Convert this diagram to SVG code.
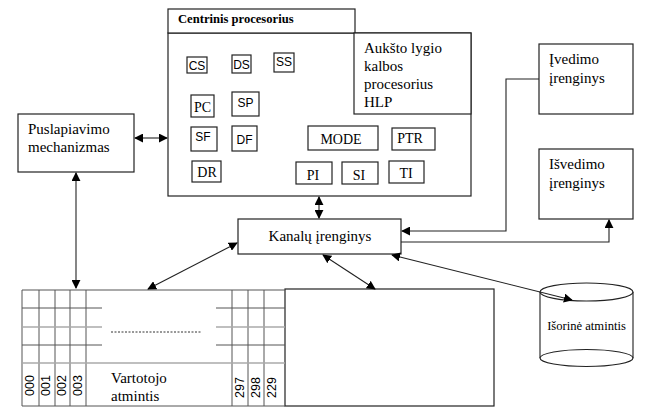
<svg xmlns="http://www.w3.org/2000/svg" width="653" height="413" viewBox="0 0 653 413">
<style>
.b{fill:#fff;stroke:#222;stroke-width:1.2}
.r{fill:#fff;stroke:#222;stroke-width:1.2}
.t{font-family:"Liberation Serif",serif;font-size:15px;fill:#000}
.s{font-family:"Liberation Serif",serif;font-size:14px;fill:#000;text-anchor:middle}
.ss{font-family:"Liberation Sans",sans-serif;font-size:12px;fill:#000;text-anchor:middle}
.n{font-family:"Liberation Sans",sans-serif;font-size:12.5px;fill:#000}
.c{fill:none;stroke:#222;stroke-width:1.1}
.g{stroke:#555;stroke-width:1}
.lg{stroke:#aaa;stroke-width:1.5}
</style>
<defs>
<marker id="a" viewBox="0 0 10 10" refX="9" refY="5" markerWidth="9" markerHeight="9" markerUnits="userSpaceOnUse" orient="auto-start-reverse">
<path d="M0,0 L10,5 L0,10 z" fill="#000"/>
</marker>
</defs>

<g id="cpu">
<rect class="b" x="168" y="33" width="303" height="163"/>
<rect class="b" x="168" y="9" width="187" height="24"/>
<text x="178" y="23" style="font-family:'Liberation Serif',serif;font-size:12.6px;font-weight:bold">Centrinis procesorius</text>
<rect class="b" x="354" y="33" width="117" height="81"/>
<text class="t" x="364" y="53">Aukšto lygio</text>
<text class="t" x="364" y="71">kalbos</text>
<text class="t" x="364" y="89">procesorius</text>
<text class="t" x="364" y="107">HLP</text>
<g id="reg-cs"><rect class="r" x="187" y="57" width="20" height="16"/><text class="ss" x="197" y="70">CS</text></g>
<g id="reg-ds"><rect class="r" x="232" y="55" width="19" height="18"/><text class="ss" x="241.5" y="69">DS</text></g>
<g id="reg-ss"><rect class="r" x="274" y="53" width="20" height="19"/><text class="ss" x="284" y="66">SS</text></g>
<g id="reg-pc"><rect class="r" x="191" y="95" width="23" height="22"/><text class="s" x="202.5" y="112">PC</text></g>
<g id="reg-sp"><rect class="r" x="232" y="92" width="27" height="24"/><text class="ss" x="245.5" y="107">SP</text></g>
<g id="reg-sf"><rect class="r" x="191" y="127" width="26" height="24"/><text class="ss" x="203" y="141">SF</text></g>
<g id="reg-df"><rect class="r" x="232" y="126" width="25" height="25"/><text class="ss" x="244.5" y="144">DF</text></g>
<g id="reg-dr"><rect class="r" x="192" y="161" width="29" height="21"/><text class="s" x="207" y="177">DR</text></g>
<g id="reg-mode"><rect class="r" x="308" y="126" width="70" height="24"/><text class="s" x="341" y="144">MODE</text></g>
<g id="reg-ptr"><rect class="r" x="392" y="128" width="43" height="22"/><text class="s" x="410" y="143">PTR</text></g>
<g id="reg-pi"><rect class="r" x="296" y="162" width="36" height="22"/><text class="s" x="313" y="180">PI</text></g>
<g id="reg-si"><rect class="r" x="342" y="162" width="36" height="22"/><text class="s" x="359" y="180">SI</text></g>
<g id="reg-ti"><rect class="r" x="389" y="161" width="35" height="22"/><text class="s" x="406" y="178">TI</text></g>
</g>

<g id="puslapiavimo">
<rect class="b" x="18" y="114" width="116" height="58"/>
<text class="t" x="28" y="134">Puslapiavimo</text>
<text class="t" x="28" y="152">mechanizmas</text>
</g>

<g id="kanalu">
<rect class="b" x="238" y="219" width="163" height="35"/>
<text class="t" x="320" y="241" text-anchor="middle">Kanalų įrenginys</text>
</g>

<g id="ivedimo">
<rect class="b" x="539" y="44" width="94" height="70"/>
<text class="t" x="549" y="64">Įvedimo</text>
<text class="t" x="549" y="83">įrenginys</text>
</g>

<g id="isvedimo">
<rect class="b" x="539" y="149" width="94" height="70"/>
<text class="t" x="549" y="169">Išvedimo</text>
<text class="t" x="549" y="188">įrenginys</text>
</g>

<g id="isorine">
<path d="M540,292 V358 M633,292 V358" stroke="#333" stroke-width="1.2" fill="none"/>
<ellipse cx="586.5" cy="292" rx="46.5" ry="9" fill="#fff" stroke="#222" stroke-width="1.2"/>
<path d="M540,358 A46.5,8.5 0 0 0 633,358 A46.5,8.5 0 0 0 540,358 Z" fill="#fff" stroke="#222" stroke-width="1.2"/>
<text x="586.5" y="330" text-anchor="middle" style="font-family:'Liberation Serif',serif;font-size:12.6px">Išorinė atmintis</text>
</g>

<g id="vartotojo">
<rect x="285" y="289" width="209" height="117" fill="#fff" stroke="#222" stroke-width="1.2"/>
<g class="g">
<line x1="22" y1="290" x2="285" y2="290"/>
<line x1="22" y1="406" x2="285" y2="406"/>
<line x1="22" y1="290" x2="22" y2="406"/>
<line x1="39" y1="290" x2="39" y2="406"/>
<line x1="55" y1="290" x2="55" y2="406"/>
<line x1="70" y1="290" x2="70" y2="406"/>
<line x1="86" y1="290" x2="86" y2="406"/>
<line x1="232" y1="290" x2="232" y2="406"/>
<line x1="248" y1="290" x2="248" y2="406"/>
<line x1="264" y1="290" x2="264" y2="406"/>
<line x1="22" y1="308" x2="102" y2="308"/>
<line x1="216" y1="308" x2="285" y2="308"/>
<line x1="22" y1="345" x2="102" y2="345"/>
<line x1="216" y1="345" x2="285" y2="345"/>
</g>
<line class="lg" x1="22" y1="327" x2="102" y2="327"/>
<line class="lg" x1="216" y1="327" x2="285" y2="327"/>
<line class="lg" x1="22" y1="363" x2="285" y2="363"/>
<line x1="111" y1="332" x2="202" y2="332" stroke="#333" stroke-width="1" stroke-dasharray="2,1.5"/>
<text class="t" x="111" y="383">Vartotojo</text>
<text class="t" x="111" y="401">atmintis</text>
<text class="n" transform="translate(34,396) rotate(-90)">000</text>
<text class="n" transform="translate(50,396) rotate(-90)">001</text>
<text class="n" transform="translate(66,396) rotate(-90)">002</text>
<text class="n" transform="translate(82,396) rotate(-90)">003</text>
<text class="n" transform="translate(244,398) rotate(-90)">297</text>
<text class="n" transform="translate(260,398) rotate(-90)">298</text>
<text class="n" transform="translate(276,398) rotate(-90)">229</text>
</g>

<g id="connectors">
<line class="c" x1="135" y1="138" x2="167" y2="138" marker-start="url(#a)" marker-end="url(#a)"/>
<line class="c" x1="76" y1="173" x2="76" y2="288" stroke="#444" stroke-width="1.5" marker-start="url(#a)" marker-end="url(#a)"/>
<line class="c" x1="319" y1="197" x2="319" y2="218" marker-start="url(#a)" marker-end="url(#a)"/>
<line class="c" x1="237" y1="243" x2="148" y2="289" marker-start="url(#a)" marker-end="url(#a)"/>
<line class="c" x1="323" y1="255" x2="375" y2="289" marker-start="url(#a)" marker-end="url(#a)"/>
<line class="c" x1="392" y1="255" x2="572" y2="300" marker-start="url(#a)" marker-end="url(#a)"/>
<polyline class="c" points="539,79 506,79 506,231 402,231" marker-end="url(#a)"/>
<polyline class="c" points="401,242 609,242 609,220" marker-end="url(#a)"/>
</g>
</svg>
